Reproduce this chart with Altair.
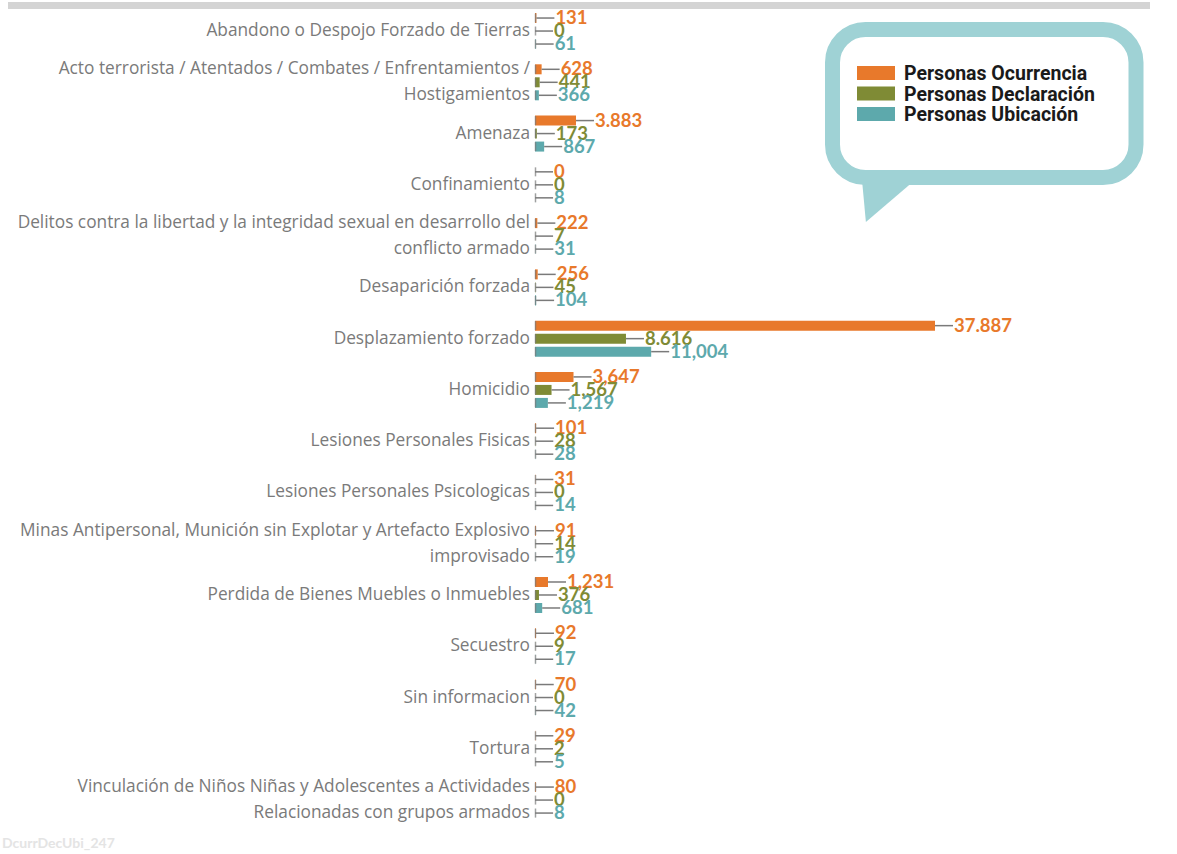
import altair as alt
import pandas as pd

categories = [
    "Abandono o Despojo Forzado de Tierras",
    "Acto terrorista / Atentados / Combates / Enfrentamientos /|Hostigamientos",
    "Amenaza",
    "Confinamiento",
    "Delitos contra la libertad y la integridad sexual en desarrollo del|conflicto armado",
    "Desaparición forzada",
    "Desplazamiento forzado",
    "Homicidio",
    "Lesiones Personales Fisicas",
    "Lesiones Personales Psicologicas",
    "Minas Antipersonal, Munición sin Explotar y Artefacto Explosivo|improvisado",
    "Perdida de Bienes Muebles o Inmuebles",
    "Secuestro",
    "Sin informacion",
    "Tortura",
    "Vinculación de Niños Niñas y Adolescentes a Actividades|Relacionadas con grupos armados",
]
series = ["Personas Ocurrencia", "Personas Declaración", "Personas Ubicación"]
colors = ["#E8792B", "#7F8B35", "#5DA9AC"]

ocurrencia = [131, 628, 3883, 0, 222, 256, 37887, 3647, 101, 31, 91, 1231, 92, 70, 29, 80]
declaracion = [0, 441, 173, 0, 7, 45, 8616, 1567, 28, 0, 14, 376, 9, 0, 2, 0]
ubicacion = [61, 366, 867, 8, 31, 104, 11004, 1219, 28, 14, 19, 681, 17, 42, 5, 8]

ocurrencia_lbl = ["131", "628", "3.883", "0", "222", "256", "37.887", "3,647", "101", "31", "91", "1,231", "92", "70", "29", "80"]
declaracion_lbl = ["0", "441", "173", "0", "7", "45", "8.616", "1,567", "28", "0", "14", "376", "9", "0", "2", "0"]
ubicacion_lbl = ["61", "366", "867", "8", "31", "104", "11,004", "1,219", "28", "14", "19", "681", "17", "42", "5", "8"]

rows = []
for s, vals, lbls in zip(series, [ocurrencia, declaracion, ubicacion],
                         [ocurrencia_lbl, declaracion_lbl, ubicacion_lbl]):
    for c, v, l in zip(categories, vals, lbls):
        rows.append({"cat": c, "series": s, "value": v, "label": l})
df = pd.DataFrame(rows)

# category label lines: one line -> middle row, two lines -> first and last rows
lab_rows = []
for c in categories:
    parts = c.split("|")
    if len(parts) == 1:
        lab_rows.append({"cat": c, "series": series[1], "text": parts[0]})
    else:
        lab_rows.append({"cat": c, "series": series[0], "text": parts[0]})
        lab_rows.append({"cat": c, "series": series[2], "text": parts[1]})
df_lab = pd.DataFrame(lab_rows)

# layout
LEFT, TOP = 535, 5.4
W, H = 600, 820.3
XMAX = 56830
LEAD = 18 * XMAX / W  # leader length in data units

xs = alt.Scale(domain=[0, XMAX], range=[0, W], nice=False, zero=True)
ys = alt.Scale(domain=categories, paddingInner=0, paddingOuter=0)
yo = alt.Scale(domain=series, paddingInner=0.23, paddingOuter=0.587)
cs = alt.Scale(domain=series, range=colors)

Y = alt.Y("cat:N", scale=ys, sort=categories, axis=None, title=None)
YO = alt.YOffset("series:N", scale=yo, sort=series)
X_AX = dict(scale=xs, axis=None)

base = alt.Chart(df).transform_calculate(end=f"datum.value + {LEAD}")

bars = base.mark_bar().encode(
    x=alt.X("value:Q", **X_AX),
    y=Y, yOffset=YO,
    color=alt.Color("series:N", scale=cs, legend=None),
)
ticks = base.mark_tick(color="#7a7a7a", thickness=1.5, size=9).encode(
    x=alt.value(0.5), y=Y, yOffset=YO,
)
leaders = base.mark_rule(color="#7a7a7a", strokeWidth=1.5).encode(
    x=alt.X("value:Q", **X_AX), x2="end:Q", y=Y, yOffset=YO,
)
texts = base.mark_text(align="left", baseline="middle", dx=1, font="Lato",
                       fontSize=18.5, fontWeight="bold").encode(
    x=alt.X("end:Q", **X_AX), y=Y, yOffset=YO, text="label:N",
    color=alt.Color("series:N", scale=cs, legend=None),
)
cat_text = alt.Chart(df_lab).mark_text(
    align="right", baseline="middle", font="Open Sans", fontSize=17.3,
    color="#7a7a7a").encode(
    x=alt.value(-5), y=Y, yOffset=YO, text="text:N")

one = pd.DataFrame({"k": [0]})
TEAL = "#9FD2D5"


def px(x):
    return x - LEFT


def py(y):
    return y - TOP


topbar = alt.Chart(one).mark_rect(color="#d4d4d4").encode(
    x=alt.value(px(8)), x2=alt.value(px(1150)), y=alt.value(py(2)), y2=alt.value(py(9)))
tail = alt.Chart(one).mark_point(
    shape="M-1,-0.81L1.04,-0.81L-0.85,0.81Z", filled=True, size=2704,
    color=TEAL, opacity=1).encode(x=alt.value(px(888)), y=alt.value(py(201)))
bubble = alt.Chart(one).mark_rect(fill="white", stroke=TEAL, strokeWidth=15,
                                  cornerRadius=33).encode(
    x=alt.value(px(832.5)), x2=alt.value(px(1136)),
    y=alt.value(py(29.5)), y2=alt.value(py(177.5)))

legend_layers = []
leg_y = [73, 93.5, 114]
for s, col, yy in zip(series, colors, leg_y):
    legend_layers.append(alt.Chart(one).mark_rect(color=col).encode(
        x=alt.value(px(857)), x2=alt.value(px(895)),
        y=alt.value(py(yy - 7)), y2=alt.value(py(yy + 7))))
    legend_layers.append(alt.Chart(one).mark_text(
        text=s, align="left", baseline="middle", font="Roboto",
        fontWeight="bold", fontSize=19.5, color="#1a1a1a").encode(
        x=alt.value(px(904)), y=alt.value(py(yy + 1))))

footer = alt.Chart(one).mark_text(
    text="DcurrDecUbi_247", align="left", baseline="middle", font="Lato",
    fontWeight="bold", fontSize=14, color="#e4e4e4").encode(
    x=alt.value(px(2)), y=alt.value(py(844)))

chart = alt.layer(
    topbar, bars, ticks, leaders, texts, cat_text, tail, bubble, *legend_layers, footer
).properties(
    width=W, height=H, background="white",
    padding={"left": LEFT, "top": TOP, "right": 1177 - LEFT - W, "bottom": 854 - TOP - H},
    autosize=alt.AutoSizeParams(type="none"),
).configure_view(stroke="transparent", strokeWidth=0)

chart.save("out.html", embed_options={"renderer": "svg", "actions": False})
